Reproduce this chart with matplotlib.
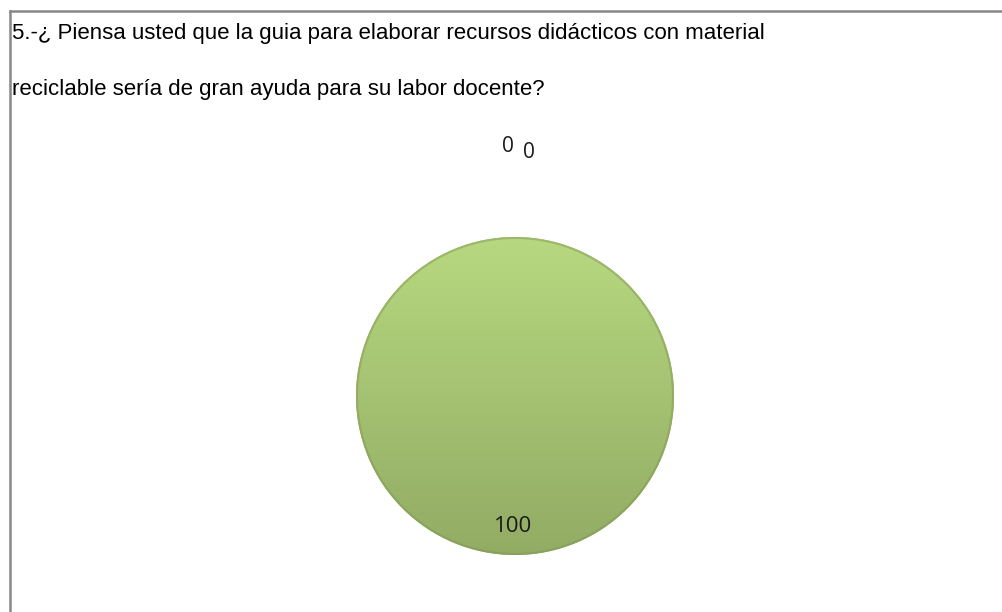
import matplotlib.pyplot as plt
import numpy as np

# Data
categories = ['Sí', 'No', 'Tal vez']
values = [100, 0, 0]
title_lines = ['5.-¿ Piensa usted que la guia para elaborar recursos didácticos con material',
               'reciclable sería de gran ayuda para su labor docente?']

fig = plt.figure(figsize=(10.03, 6.12), dpi=100)
ax = fig.add_axes([0, 0, 1, 1])

# pie in pixel units, centre and radius
cx, cy, r = 515, 216, 159
wedges, _ = ax.pie(values, center=(cx, cy), radius=r, startangle=90,
                   counterclock=False, colors=['#a8c574', '#a8c574', '#a8c574'],
                   wedgeprops=dict(edgecolor='none'))
ax.set_xlim(0, 1003)
ax.set_ylim(0, 612)
ax.set_aspect('auto')
ax.axis('off')

# vertical gradient filling the big wedge, soft darker rim
top = np.array([183, 216, 128]) / 255
bot = np.array([146, 172, 100]) / 255
t = np.linspace(0, 1, 256)[:, None]
grad = (top * (1 - t) + bot * t)[:, None, :].repeat(2, axis=1)
img = ax.imshow(grad, extent=(cx - r, cx + r, cy - r, cy + r), origin='upper',
                aspect='auto', zorder=2)
img.set_clip_path(wedges[0])
rim = plt.Circle((cx, cy), r - 1, fill=False, ec='#7f9452', lw=1.5, alpha=0.45, zorder=3)
ax.add_patch(rim)

# value labels placed from the wedge angles
cum = np.cumsum([0] + values) / sum(values)
mids = [90 - 360 * (cum[i] + cum[i + 1]) / 2 for i in range(len(values))]
ax.text(cx - 2, cy + r * 0.82 * np.sin(np.radians(mids[0])), str(values[0]),
        ha='center', va='center', fontsize=16, family='Open Sans', color='#1a1a1a', zorder=4)
ax.text(cx - 7, cy + r * 1.57, str(values[1]), ha='center', va='center',
        fontsize=15, family='Open Sans', color='#1a1a1a')
ax.text(cx + 14, cy + r * 1.53, str(values[2]), ha='center', va='center',
        fontsize=15, family='Open Sans', color='#1a1a1a')

# title
fig.text(12, 612 - 39, title_lines[0], transform=None, fontsize=16, family='Liberation Sans',
         ha='left', va='baseline', color='black')
fig.text(12, 612 - 95, title_lines[1], transform=None, fontsize=16, family='Liberation Sans',
         ha='left', va='baseline', color='black')

# chart border (top and left visible)
ax.plot([10, 1003], [601, 601], color='#888888', lw=1.8, transform=None, clip_on=False)
ax.plot([10, 10], [0, 601], color='#888888', lw=1.8, transform=None, clip_on=False)

fig.savefig('out.png', dpi=100)
